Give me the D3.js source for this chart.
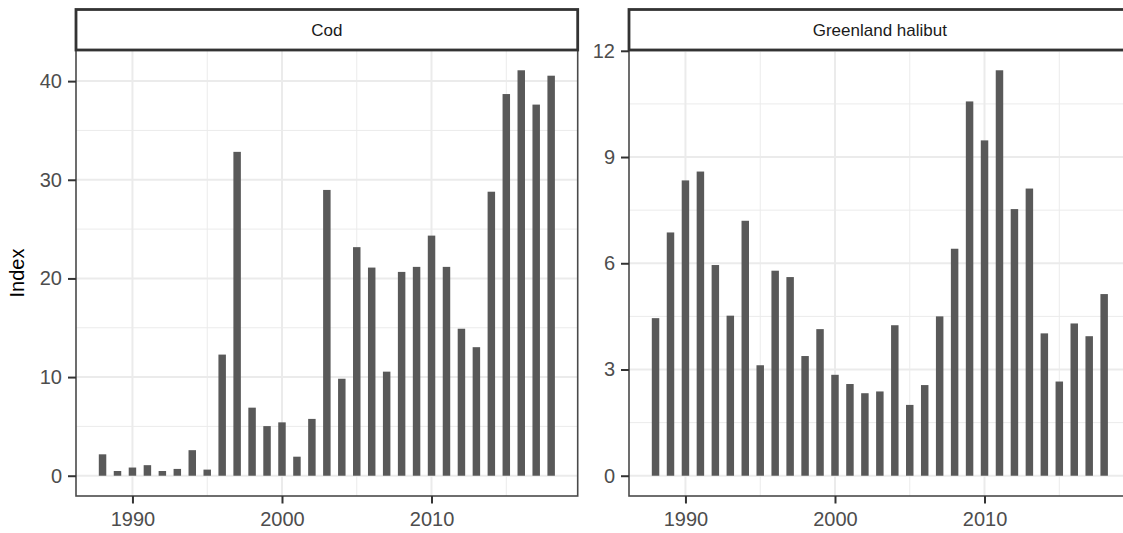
<!DOCTYPE html>
<html>
<head>
<meta charset="utf-8">
<script src="https://cdn.jsdelivr.net/npm/d3@7"></script>
<style>
  html, body { margin: 0; padding: 0; background: #fff; overflow: hidden; }
  svg { display: block; font-family: "Liberation Sans", Arial, sans-serif; }
</style>
</head>
<body>
<svg id="chart" width="1123" height="533"></svg>
<script>
"use strict";

// survey years, same for both species
const years = d3.range(1988, 2019);

const codIndex = [2.17, 0.48, 0.83, 1.07, 0.48, 0.69, 2.59, 0.62, 12.28, 32.83,
    6.9, 5.03, 5.41, 1.93, 5.76, 28.97, 9.83, 23.17, 21.1, 10.55,
    20.66, 21.17, 24.34, 21.17, 14.9, 13.03, 28.79, 38.69, 41.1, 37.62, 40.55];

const halibutIndex = [4.45, 6.87, 8.34, 8.59, 5.95, 4.52, 7.2, 3.12, 5.79, 5.61,
    3.38, 4.14, 2.85, 2.59, 2.33, 2.38, 4.25, 2.0, 2.56, 4.5,
    6.41, 10.57, 9.47, 11.45, 7.53, 8.11, 4.02, 2.66, 4.3, 3.94, 5.13];

const panelNames = ["Cod", "Greenland halibut"];
const yBreaks = [[0, 10, 20, 30, 40], [0, 3, 6, 9, 12]];
const yMinor = [[5, 15, 25, 35], [1.5, 4.5, 7.5, 10.5]];
const xBreaks = [1990, 2000, 2010];
const xMinor = [1995, 2005, 2015];

const svg = d3.select("#chart");

const panelW = 501.7, panelTop = 50, panelBottom = 496;
const stripTop = 9.5;
const panelLefts = [76, 629];
const barWidth = 0.5;

// ggplot style 5% expansion on both axes
const xLo = d3.min(years) - barWidth / 2, xHi = d3.max(years) + barWidth / 2;
const xPad = (xHi - xLo) * 0.05;

[codIndex, halibutIndex].forEach(function(values, i) {
    const left = panelLefts[i];
    const g = svg.append("g").attr("transform", "translate(" + left + ",0)");

    const x = d3.scaleLinear()
        .domain([xLo - xPad, xHi + xPad])
        .range([0, panelW]);

    const yMax = d3.max(values);
    const y = d3.scaleLinear()
        .domain([-yMax * 0.05, yMax * 1.05])
        .range([panelBottom, panelTop]);

    // grid
    g.selectAll(".ymin").data(yMinor[i]).enter().append("line")
        .attr("x1", 0).attr("x2", panelW)
        .attr("y1", d => y(d)).attr("y2", d => y(d))
        .style("stroke", "#ebebeb").style("stroke-width", 1);
    g.selectAll(".xmin").data(xMinor).enter().append("line")
        .attr("y1", panelTop).attr("y2", panelBottom)
        .attr("x1", d => x(d)).attr("x2", d => x(d))
        .style("stroke", "#ebebeb").style("stroke-width", 1);
    g.selectAll(".ymaj").data(yBreaks[i]).enter().append("line")
        .attr("x1", 0).attr("x2", panelW)
        .attr("y1", d => y(d)).attr("y2", d => y(d))
        .style("stroke", "#ebebeb").style("stroke-width", 2);
    g.selectAll(".xmaj").data(xBreaks).enter().append("line")
        .attr("y1", panelTop).attr("y2", panelBottom)
        .attr("x1", d => x(d)).attr("x2", d => x(d))
        .style("stroke", "#ebebeb").style("stroke-width", 2);

    // bars
    g.selectAll(".bar").data(values).enter().append("rect")
        .attr("x", (d, j) => x(years[j] - barWidth / 2))
        .attr("width", (d, j) => x(years[j] + barWidth / 2) - x(years[j] - barWidth / 2))
        .attr("y", d => y(d))
        .attr("height", d => y(0) - y(d))
        .style("fill", "#595959");

    // panel border
    g.append("rect")
        .attr("x", 0).attr("y", panelTop)
        .attr("width", panelW).attr("height", panelBottom - panelTop)
        .style("fill", "none").style("stroke", "#4a4a4a").style("stroke-width", 1.6);

    // strip
    g.append("rect")
        .attr("x", 0).attr("y", stripTop)
        .attr("width", panelW).attr("height", panelTop - stripTop)
        .style("fill", "#fff").style("stroke", "#333").style("stroke-width", 2.8);
    g.append("text")
        .attr("x", panelW / 2).attr("y", (stripTop + panelTop) / 2 + 1)
        .attr("text-anchor", "middle").attr("dominant-baseline", "central")
        .style("font-size", "17px").style("fill", "#1a1a1a")
        .text(panelNames[i]);

    // axes
    const yAxis = g.append("g")
        .call(d3.axisLeft(y).tickValues(yBreaks[i]).tickSize(8).tickPadding(6));
    const xAxis = g.append("g")
        .attr("transform", "translate(0," + panelBottom + ")")
        .call(d3.axisBottom(x).tickValues(xBreaks).tickFormat(d3.format("d")).tickSize(7.5).tickPadding(8));

    [yAxis, xAxis].forEach(function(ax) {
        ax.select(".domain").remove();
        ax.selectAll(".tick line").style("stroke", "#333").style("stroke-width", 2);
        ax.selectAll(".tick text").style("font-size", "20px").style("fill", "#4d4d4d")
            .style("font-family", "'Liberation Sans', Arial, sans-serif");
    });
});

// shared y title
svg.append("text")
    .attr("transform", "translate(24," + (panelTop + panelBottom) / 2 + ") rotate(-90)")
    .attr("text-anchor", "middle")
    .style("font-size", "20px").style("fill", "#000")
    .text("Index");
</script>
</body>
</html>
